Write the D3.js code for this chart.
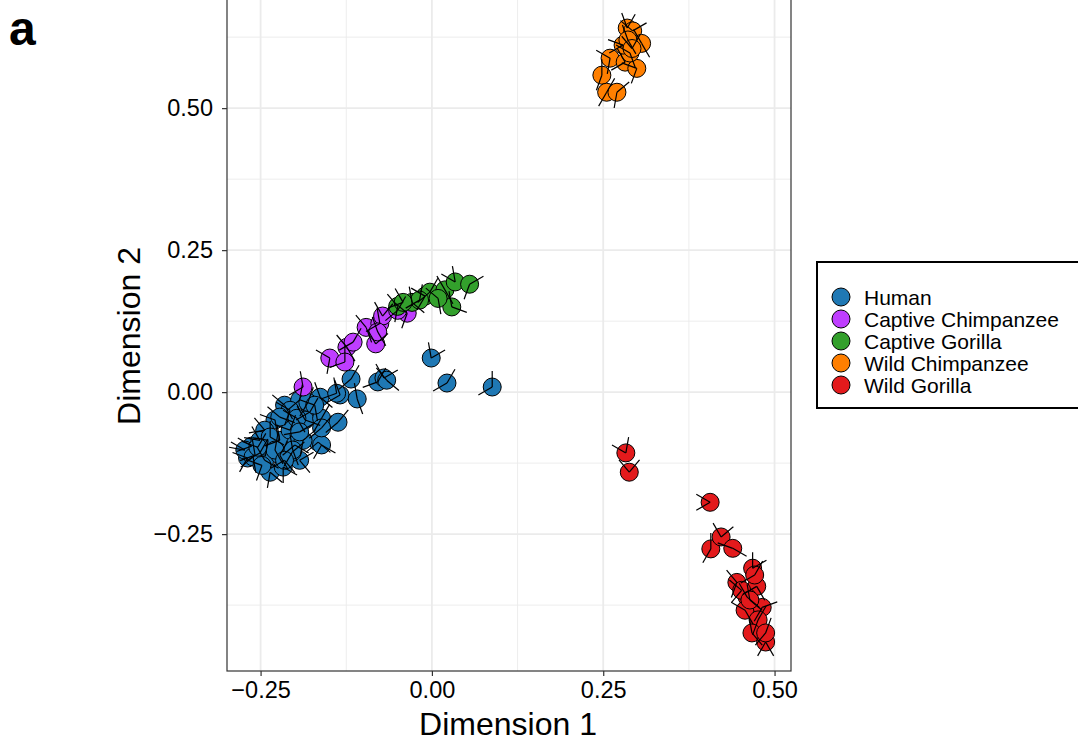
<!DOCTYPE html>
<html>
<head>
<meta charset="utf-8">
<script src="https://cdn.jsdelivr.net/npm/d3@7"></script>
<style>
  body { margin: 0; background: #fff; }
  text { font-family: "Liberation Sans", Arial, sans-serif; }
</style>
</head>
<body>
<div id="chart"></div>
<script>
// groups, colours, legend order
var groups = ["Human", "Captive Chimpanzee", "Captive Gorilla", "Wild Chimpanzee", "Wild Gorilla"];
var colors = ["#1f78b4", "#bf3eff", "#33a02c", "#ff7f00", "#e31a1c"];

// each point: [dim1, dim2, whisker angle 1, whisker angle 2] (angles in degrees)
var human = [
  [-0.263,-0.095,-150,160],[-0.269,-0.116,200,120],[-0.251,-0.107,-60,150],[-0.236,-0.141,100,40],
  [-0.244,-0.120,-120,30],[-0.222,-0.085,-100,160],[-0.207,-0.067,-70,200],[-0.200,-0.093,30,140],
  [-0.193,-0.120,50,-30],[-0.178,-0.035,-60,150],[-0.163,-0.009,-110,40],[-0.215,-0.023,-140,60],
  [-0.193,-0.014,-80,140],[-0.207,-0.032,110,-150],[-0.229,-0.049,-160,80],[-0.244,-0.067,-130,170],
  [-0.185,-0.049,20,-120],[-0.166,-0.088,40,140],[-0.161,-0.046,-60,120],[-0.137,-0.053,-50,140],
  [-0.134,-0.005,-110,150],[-0.118,0.023,-60,140],[-0.109,-0.012,-100,70],[-0.079,0.018,-60,160],
  [-0.070,0.025,-120,-30],[-0.001,0.060,-100,-30],[0.022,0.016,-60,150],[0.088,0.009,-90,150],
  [-0.239,-0.085,-170,100],[-0.222,-0.111,60,-60],[-0.204,-0.106,-40,120],[-0.258,-0.111,160,-100],
  [-0.273,-0.102,-150,190],[-0.161,-0.093,120,30],[-0.217,-0.132,90,30],[-0.261,-0.114,140,80],
  [-0.251,-0.085,-120,190],[-0.236,-0.079,-90,30],[-0.222,-0.044,-140,20],[-0.188,-0.085,-40,100],
  [-0.203,-0.102,70,-100],[-0.139,-0.002,-100,160],[-0.181,-0.018,-70,120],[-0.197,-0.046,-150,60],
  [-0.161,-0.063,140,-50],[-0.171,-0.023,-160,80],[-0.066,0.021,-130,40],[-0.248,-0.129,110,200],
  [-0.229,-0.102,-80,60],[-0.215,-0.120,50,150],[-0.254,-0.097,-160,-60],[-0.193,-0.070,-30,170]
];
var captiveChimp = [
  [-0.188,0.009,-100,150],[-0.149,0.060,-150,100],[-0.124,0.079,-130,60],[-0.115,0.088,-60,150],
  [-0.082,0.085,-120,-40],[-0.096,0.114,-130,70],[-0.076,0.121,-100,150],[-0.072,0.134,-120,-50],
  [-0.036,0.139,-140,110],[-0.127,0.053,-90,160],[-0.050,0.144,-60,140],[-0.079,0.106,-110,60]
];
var captiveGorilla = [
  [-0.050,0.151,-130,100],[-0.029,0.158,-100,40],[-0.010,0.169,-150,120],[-0.003,0.176,-60,140],
  [0.019,0.180,-120,60],[0.029,0.150,-100,20],[0.034,0.194,-100,-150],[0.055,0.190,-30,110],
  [0.009,0.165,-140,80],[-0.018,0.162,-80,150],[-0.042,0.158,-120,160]
];
var wildChimp = [
  [0.285,0.641,-110,-60],[0.293,0.636,-140,-30],[0.306,0.614,60,-120],[0.260,0.588,-150,100],
  [0.282,0.581,-120,150],[0.299,0.570,-160,110],[0.289,0.597,-150,70],[0.248,0.558,-90,110],
  [0.255,0.528,120,-60],[0.270,0.528,-40,100],[0.279,0.611,-160,150],[0.286,0.620,-110,60],
  [0.292,0.605,-130,-60]
];
var wildGorilla = [
  [0.283,-0.107,-80,-150],[0.288,-0.141,-130,-50],[0.406,-0.194,-150,150],[0.407,-0.276,-90,120],
  [0.422,-0.255,-120,-40],[0.439,-0.275,-160,30],[0.468,-0.310,-90,-30],[0.445,-0.335,-130,110],
  [0.474,-0.342,60,150],[0.460,-0.361,-120,40],[0.457,-0.384,-150,60],[0.482,-0.379,-20,120],
  [0.476,-0.401,-60,110],[0.467,-0.424,-100,50],[0.487,-0.440,60,120],[0.452,-0.349,-140,130],
  [0.464,-0.366,-100,40],[0.471,-0.322,-60,150],[0.487,-0.424,-70,130]
];
var seriesData = [human, captiveChimp, captiveGorilla, wildChimp, wildGorilla];

var xTicks = [-0.25, 0, 0.25, 0.5];
var yTicks = [-0.25, 0, 0.25, 0.5];
var xMinor = [-0.125, 0.125, 0.375];
var yMinor = [-0.375, -0.125, 0.125, 0.375, 0.625];

var W = 1078, H = 748;
var panel = {left: 227, right: 791, top: -10, bottom: 671};

var svg = d3.select("#chart").append("svg")
  .attr("width", W).attr("height", H);

var x = d3.scaleLinear().domain([-0.299, 0.524]).range([panel.left, panel.right]);
var y = d3.scaleLinear().domain([-0.491, 0.708]).range([panel.bottom, panel.top]);

var fmt = function(d) { return d3.format(".2f")(d).replace("-", "\u2212"); };

// grid
var grid = svg.append("g");
grid.selectAll(".xminor").data(xMinor).enter().append("line")
  .attr("x1", function(d) { return x(d); }).attr("x2", function(d) { return x(d); })
  .attr("y1", panel.top).attr("y2", panel.bottom)
  .attr("stroke", "#ebebeb").attr("stroke-width", 0.9);
grid.selectAll(".yminor").data(yMinor).enter().append("line")
  .attr("y1", function(d) { return y(d); }).attr("y2", function(d) { return y(d); })
  .attr("x1", panel.left).attr("x2", panel.right)
  .attr("stroke", "#ebebeb").attr("stroke-width", 0.9);
grid.selectAll(".xmajor").data(xTicks).enter().append("line")
  .attr("x1", function(d) { return x(d); }).attr("x2", function(d) { return x(d); })
  .attr("y1", panel.top).attr("y2", panel.bottom)
  .attr("stroke", "#ebebeb").attr("stroke-width", 1.8);
grid.selectAll(".ymajor").data(yTicks).enter().append("line")
  .attr("y1", function(d) { return y(d); }).attr("y2", function(d) { return y(d); })
  .attr("x1", panel.left).attr("x2", panel.right)
  .attr("stroke", "#ebebeb").attr("stroke-width", 1.8);

// points: circles first, whiskers on top
var pts = svg.append("g");
seriesData.forEach(function(data, i) {
  pts.selectAll(".c" + i).data(data).enter().append("circle")
    .attr("cx", function(d) { return x(d[0]); })
    .attr("cy", function(d) { return y(d[1]); })
    .attr("r", 9)
    .attr("fill", colors[i])
    .attr("stroke", "#000").attr("stroke-width", 1);
});
var wl = 16;
seriesData.forEach(function(data, i) {
  data.forEach(function(d) {
    [d[2], d[3]].forEach(function(a) {
      var r = a * Math.PI / 180;
      pts.append("line")
        .attr("x1", x(d[0])).attr("y1", y(d[1]))
        .attr("x2", x(d[0]) + wl * Math.cos(r))
        .attr("y2", y(d[1]) + wl * Math.sin(r))
        .attr("stroke", "#000").attr("stroke-width", 1.2);
    });
  });
});

// panel border
svg.append("rect")
  .attr("x", panel.left).attr("y", panel.top)
  .attr("width", panel.right - panel.left).attr("height", panel.bottom - panel.top)
  .attr("fill", "none").attr("stroke", "#333").attr("stroke-width", 1.2);

// axes
var xAxis = svg.append("g")
  .attr("transform", "translate(0," + panel.bottom + ")")
  .call(d3.axisBottom(x).tickValues(xTicks).tickFormat(fmt).tickSize(5).tickPadding(5));
var yAxis = svg.append("g")
  .attr("transform", "translate(" + panel.left + ",0)")
  .call(d3.axisLeft(y).tickValues(yTicks).tickFormat(fmt).tickSize(5).tickPadding(9));
[xAxis, yAxis].forEach(function(g) {
  g.select(".domain").remove();
  g.selectAll(".tick line").attr("stroke", "#333").attr("stroke-width", 1.2);
  g.selectAll(".tick text").attr("fill", "#000")
    .style("font-size", "23.5px").style("font-family", "'Liberation Sans', Arial, sans-serif");
});

// axis titles
svg.append("text")
  .attr("x", (panel.left + panel.right) / 2 - 1).attr("y", 735)
  .attr("text-anchor", "middle").style("font-size", "32px")
  .text("Dimension 1");
svg.append("text")
  .attr("transform", "translate(140," + 336 + ") rotate(-90)")
  .attr("text-anchor", "middle").style("font-size", "32px")
  .text("Dimension 2");

// panel tag
svg.append("text")
  .attr("x", 9).attr("y", 45)
  .style("font-size", "48px").style("font-weight", "bold")
  .text("a");

// legend
var leg = svg.append("g");
leg.append("rect")
  .attr("x", 817).attr("y", 262).attr("width", 270).attr("height", 146)
  .attr("fill", "#fff").attr("stroke", "#000").attr("stroke-width", 2);
groups.forEach(function(g, i) {
  var ly = 297 + i * 22;
  leg.append("circle")
    .attr("cx", 841).attr("cy", ly).attr("r", 9)
    .attr("fill", colors[i]).attr("stroke", "#000").attr("stroke-width", 1);
  leg.append("text")
    .attr("x", 864).attr("y", ly).attr("dy", "0.36em")
    .style("font-size", "21px")
    .text(g);
});
</script>
</body>
</html>
